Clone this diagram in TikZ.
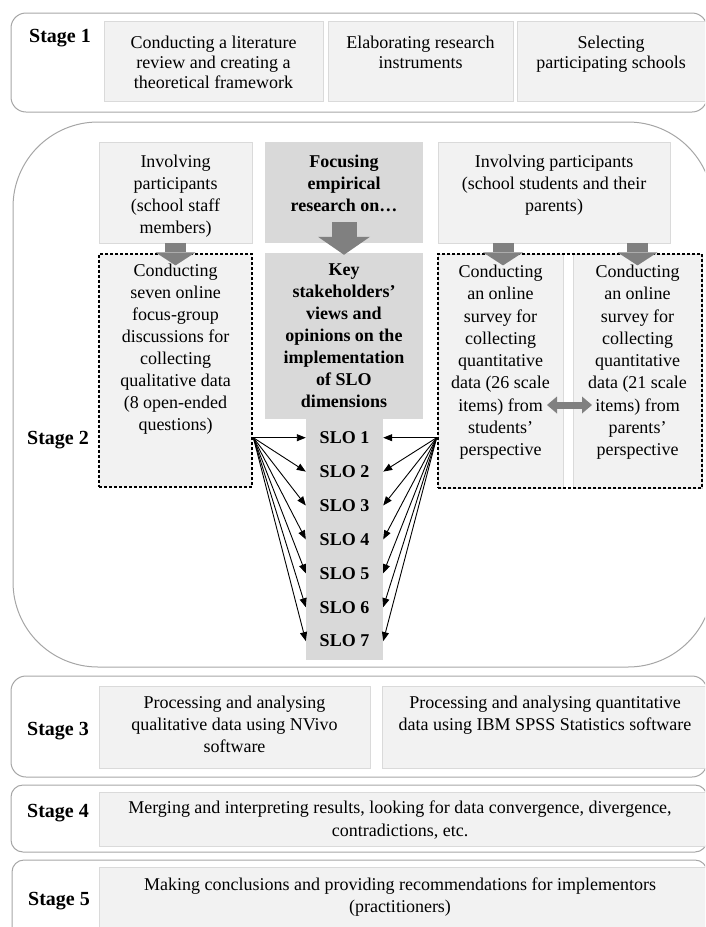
\documentclass[tikz,border=0pt]{standalone}
\usepackage{fontspec}
\setmainfont{Liberation Serif}
\usetikzlibrary{fit,arrows.meta}
\definecolor{lfill}{HTML}{F2F2F2}
\definecolor{lline}{HTML}{DADADA}
\definecolor{dfill}{HTML}{D9D9D9}
\definecolor{agray}{HTML}{808080}
\definecolor{sline}{HTML}{A6A6A6}
\begin{document}
\begin{tikzpicture}[x=1pt,y=-1pt,
  stagebox/.style={draw=sline,line width=1pt,inner sep=0pt},
  lbox/.style={fill=lfill,draw=lline,line width=0.8pt,inner sep=0pt},
  dbox/.style={fill=dfill,draw=none,inner sep=0pt},
  dotbox/.style={draw=black,line width=2.7pt,dash pattern=on 2.7pt off 2.3pt,inner sep=0pt},
  tx/.style={inner sep=0pt,align=center,anchor=north,font=\fontsize{18}{22}\selectfont},
  txs/.style={tx,font=\fontsize{18}{20}\selectfont},
  txb/.style={tx,font=\bfseries\fontsize{18}{22}\selectfont},
  txq/.style={tx,font=\fontsize{18}{22.25}\selectfont},
  lab/.style={inner sep=0pt,font=\bfseries\fontsize{20}{24}\selectfont},
  slolab/.style={inner sep=0pt,font=\bfseries\fontsize{18}{22}\selectfont},
  blk/.style={draw=agray,line width=21pt,-{Triangle[length=13pt,width=40pt,line width=0pt]}},
  blkc/.style={draw=agray,line width=25pt,-{Triangle[length=18pt,width=52pt,line width=0pt]}},
  dblk/.style={draw=agray,line width=7pt,{Triangle[length=10pt,width=17pt,line width=0pt]}-{Triangle[length=10pt,width=17pt,line width=0pt]}},
  sarr/.style={draw=black,line width=0.9pt,-{Triangle[length=9pt,width=7pt]}},
]
\useasboundingbox (0,0) rectangle (705,927);
\clip (0,0) rectangle (705,927);

% ---------- Stage 1
\node[stagebox, rounded corners=15pt, fit={(11,13) (707,112)}] (st1) {};
\node[lbox, fit={(104,21) (323,101)}] (b11) {};
\node[lbox, fit={(328,21) (513,101)}] (b12) {};
\node[lbox, fit={(517,21) (707,101)}] (b13) {};
\node[txs] (t11) at (213.5,36) {Conducting a literature\\review and creating a\\theoretical framework};
\node[txs] (t12) at (420.5,36) {Elaborating research\\instruments};
\node[txs] (t13) at (611,36) {Selecting\\participating schools};
\node[lab] (l1) at (60,38) {Stage 1};

% ---------- Stage 2
\node[stagebox, rounded corners=85pt, fit={(13,122) (713,667)}] (st2) {};
\node[lbox, fit={(99,142) (252,243)}] (b21) {};
\node[dbox, fit={(265,142) (423,243)}] (b22) {};
\node[lbox, fit={(438,142) (670,243)}] (b23) {};
\node[lbox, dotbox, fill=lfill, fit={(99,254) (252,487)}] (b24) {};
\node[dbox, fit={(265,253) (423,419)}] (b25) {};
\node[dbox, fit={(306,418) (383,660)}] (col) {};
\node[lbox, fit={(438,254) (563,488)}] (b26) {};
\node[lbox, fit={(573,254) (702,488)}] (b27) {};
\node[dotbox, fit={(438,254) (702,488)}] (b28) {};

\node[tx] (t21) at (175.5,155) {Involving\\participants\\(school staff\\members)};
\node[txb] (t22) at (344,155) {Focusing\\empirical\\research on…};
\node[tx] (t23) at (554,155) {Involving participants\\(school students and their\\parents)};
\node[tx] (t24) at (175.5,264) {Conducting\\seven online\\focus-group\\discussions for\\collecting\\qualitative data\\(8 open-ended\\questions)};
\node[txb] (t25) at (344,264) {Key\\stakeholders'\\views and\\opinions on the\\implementation\\of SLO\\dimensions};
\node[txq] (t26) at (500.5,265) {Conducting\\an online\\survey for\\collecting\\quantitative\\data (26 scale\\items) from\\students'\\perspective};
\node[txq] (t27) at (637.5,265) {Conducting\\an online\\survey for\\collecting\\quantitative\\data (21 scale\\items) from\\parents'\\perspective};
\node[lab] (l2) at (58,440) {Stage 2};

\foreach \i in {1,...,7}
  \node[slolab] (slo\i) at (344.5,{437.7+33.9*(\i-1)}) {SLO \i};

% block arrows
\draw[blk] (b21.south) -- ++(0,22);
\path (b22.south) ++(0,-21) coordinate (ca);
\draw[blkc] (ca) -- ([yshift=-2pt]b25.north);
\draw[blk] (b26.north |- b23.south) ++(2.5,0) coordinate (ra1) -- ++(0,22);
\draw[blk] (b27.north |- b23.south) -- ++(0,22);
\coordinate (da1) at (547,405);
\coordinate (da2) at (592,405);
\draw[dblk] (da1) -- (da2);

% SLO arrows
\coordinate (lo) at (b24.east |- slo1);
\coordinate (ro) at (b28.west |- slo1);
\foreach \i in {1,...,7} {
  \draw[sarr] (lo) -- (col.west |- slo\i);
  \draw[sarr] (ro) -- (col.east |- slo\i);
}

% ---------- Stage 3
\node[stagebox, rounded corners=15pt, fit={(11,676) (707,777)}] (st3) {};
\node[lbox, fit={(99,686) (370,768)}] (b31) {};
\node[lbox, fit={(382,686) (706,768)}] (b32) {};
\node[tx] (t31) at (234.5,696) {Processing and analysing\\qualitative data using NVivo\\software};
\node[tx] (t32) at (545,696) {Processing and analysing quantitative\\data using IBM SPSS Statistics software};
\node[lab] (l3) at (58,731) {Stage 3};

% ---------- Stage 4
\node[stagebox, rounded corners=12pt, fit={(11,785) (707,852)}] (st4) {};
\node[lbox, fit={(99,792) (706,846)}] (b41) {};
\node[tx, font=\fontsize{18}{23}\selectfont] (t41) at (400,801) {Merging and interpreting results, looking for data convergence, divergence,\\contradictions, etc.};
\node[lab] (l4) at (58,813) {Stage 4};

% ---------- Stage 5
\node[stagebox, rounded corners=12pt, fit={(12,860) (707,945)}] (st5) {};
\node[lbox, fit={(99,867) (706,940)}] (b51) {};
\node[tx] (t51) at (400,878) {Making conclusions and providing recommendations for implementors\\(practitioners)};
\node[lab] (l5) at (59,901) {Stage 5};
\end{tikzpicture}
\end{document}
